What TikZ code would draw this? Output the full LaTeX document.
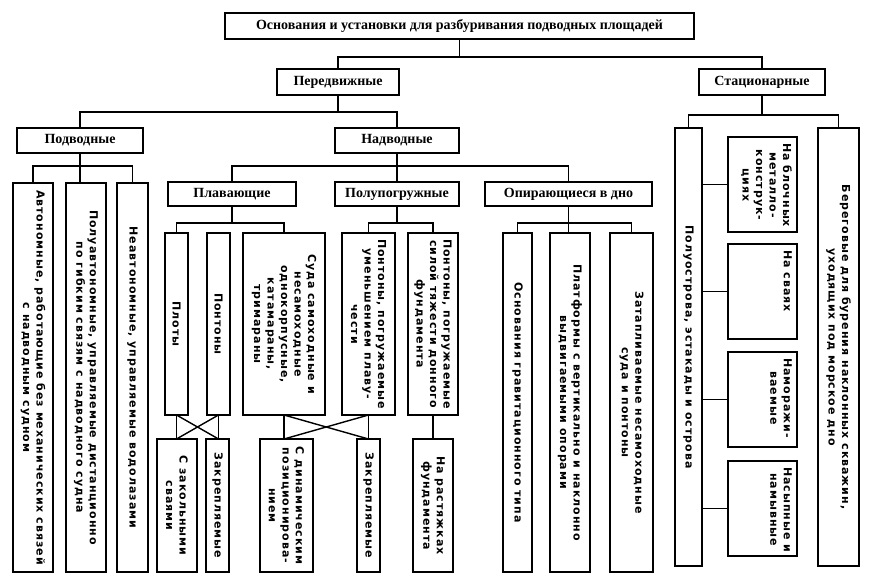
\documentclass[tikz,border=0pt]{standalone}
\usepackage{fontspec}
\setmainfont{Liberation Serif}
\newfontfamily\vfont[LetterSpace=9]{DejaVu Sans}
\newcommand\hb[6]{\node[box,hl,minimum width={(#4-#2)*1pt},minimum height={(#5-#3)*1pt}] (#1) at ({(#2+#4)/2},{(#3+#5)/2}) {#6};}
\newcommand\vb[6]{\node[box,minimum width={(#4-#2)*1pt},minimum height={(#5-#3)*1pt}] (#1) at ({(#2+#4)/2},{(#3+#5)/2}) {};\node[vt] (#1-t) at (#1.center) {#6};}
\newcommand\vbtop[6]{\node[box,minimum width={(#4-#2)*1pt},minimum height={(#5-#3)*1pt}] (#1) at ({(#2+#4)/2},{(#3+#5)/2}) {};\node[vt,anchor=north west] (#1-t) at ([xshift=-5pt,yshift=-6pt]#1.north east) {#6};}
\begin{document}
\begin{tikzpicture}[x=1pt,y=-1pt,
  box/.style={draw,line width=1.8pt,inner sep=0pt,outer sep=0pt},
  hl/.style={font=\bfseries\fontsize{14}{16}\selectfont},
  vt/.style={rotate=-90,align=center,inner sep=0pt,font=\vfont\bfseries\fontsize{11}{13.5}\selectfont},
  ln/.style={line width=1.4pt}]
\useasboundingbox (0,0) rectangle (872,584);
\path (0,57) coordinate (L0) (0,112) coordinate (L1) (0,115) coordinate (L1s)
      (0,166) coordinate (L2) (0,223) coordinate (L3);
% horizontal boxes
\hb{top}{225}{13}{694}{39}{Основания и установки для разбуривания подводных площадей}
\hb{per}{277}{69}{399}{95}{Передвижные}
\hb{stat}{699}{69}{825}{95}{Стационарные}
\hb{pod}{17}{128}{143}{153}{Подводные}
\hb{nad}{335}{128}{459}{153}{Надводные}
\hb{plav}{168}{182}{296}{206}{Плавающие}
\hb{ppg}{335}{182}{459}{206}{Полупогружные}
\hb{opi}{485}{182}{652}{206}{Опирающиеся в дно}
% vertical boxes
\vb{av}{13}{183}{53}{572}{Автономные, работающие без механических связей\\с надводным судном}
\vb{pav}{66}{183}{106}{572}{Полуавтономные, управляемые дистанционно\\по гибким связям с надводного судна}
\vb{nav}{117}{183}{148}{572}{Неавтономные, управляемые водолазами}
\vb{plo}{165}{233}{188}{415}{Плоты}
\vb{pon}{207}{233}{230}{415}{Понтоны}
\vb{sud}{243}{233}{325}{415}{Суда самоходные и\\несамоходные\\однокорпусные,\\катамараны,\\тримараны}
\vb{pa}{342}{233}{395}{415}{Понтоны, погружаемые\\уменьшением плаву-\\чести}
\vb{pb}{408}{233}{458}{415}{Понтоны, погружаемые\\силой тяжести донного\\фундамента}
\vb{zks}{157}{439}{197}{572}{С закольными\\сваями}
\vb{zk1}{206}{439}{229}{572}{Закрепляемые}
\vb{dyn}{260}{439}{313}{572}{С динамическим\\позиционирова-\\нием}
\vb{zk2}{357}{439}{380}{572}{Закрепляемые}
\vb{ras}{413}{439}{453}{572}{На растяжках\\фундамента}
\vb{osn}{503}{233}{532}{572}{Основания гравитационного типа}
\vb{pla}{550}{233}{590}{572}{Платформы с вертикально и наклонно\\выдвигаемыми опорами}
\vb{zat}{610}{233}{653}{572}{Затапливаемые несамоходные\\суда и понтоны}
\vb{pol}{675}{128}{702}{566}{Полуострова, эстакады и острова}
\vb{ber}{818}{128}{859}{566}{Береговые для бурения наклонных скважин,\\уходящих под морское дно}
\vbtop{blk}{728}{137}{797}{232}{На блочных\\металло-\\конструк-\\циях}
\vbtop{sva}{728}{244}{797}{339}{На сваях}
\vbtop{nam}{728}{352}{797}{447}{Наморажи-\\ваемые}
\vbtop{nas}{728}{461}{797}{556}{Насыпные и\\намывные}
% connectors
\draw[ln] (top.south) -- (top.south |- L0);
\draw[ln] (per.north) |- (stat.north |- L0) -- (stat.north);
\draw[ln] (per.south) -- (per.south |- L1);
\draw[ln] (pod.north) |- (nad.north |- L1) -- (nad.north);
\draw[ln] (stat.south) -- (stat.south |- L1s);
\draw[ln] (pol.north) |- (ber.north |- L1s) -- (ber.north);
\draw[ln] (pod.south) -- (pod.south |- pav.north);
\draw[ln] (av.north) |- (nav.north |- L2) -- (nav.north);
\draw[ln] (nad.south) -- (nad.south |- ppg.north);
\draw[ln] (plav.north) |- (opi.north |- L2) -- (opi.north);
\draw[ln] (plav.south) -- (plav.south |- L3);
\draw[ln] (plo.north) |- (sud.north |- L3) -- (sud.north);
\draw[ln] (ppg.south) -- (ppg.south |- L3);
\draw[ln] (pa.north) |- (pb.north |- L3) -- (pb.north);
\draw[ln] (opi.south) -- (opi.south |- pla.north);
\draw[ln] (osn.north) |- (zat.north |- L3) -- (zat.north);
\draw[ln] (plo.south) -- (plo.south |- zks.north);
\draw[ln] (pon.south) -- (pon.south |- zk1.north);
\draw[ln] (plo.south) -- (pon.south |- zk1.north);
\draw[ln] (pon.south) -- (plo.south |- zks.north);
\draw[ln] (sud.south) -- (sud.south |- dyn.north);
\draw[ln] (pa.south) -- (pa.south |- zk2.north);
\draw[ln] (sud.south) -- (pa.south |- zk2.north);
\draw[ln] (pa.south) -- (sud.south |- dyn.north);
\draw[ln] (pb.south) -- (pb.south |- ras.north);
\draw[ln] (blk.west) -- (blk.west -| pol.east);
\draw[ln] (sva.west) -- (sva.west -| pol.east);
\draw[ln] (nam.west) -- (nam.west -| pol.east);
\draw[ln] (nas.west) -- (nas.west -| pol.east);
\end{tikzpicture}
\end{document}
